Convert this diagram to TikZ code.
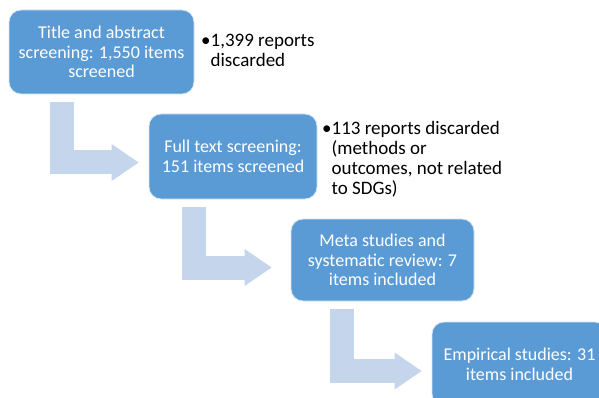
\documentclass[tikz,border=0pt]{standalone}
\usepackage{fontspec}
\setmainfont{Carlito}
\usetikzlibrary{arrows.meta,calc}
\definecolor{boxblue}{RGB}{91,155,213}
\definecolor{arrowblue}{RGB}{197,213,235}

\begin{document}
\begin{tikzpicture}[x=1pt, y=-1pt,
    stage/.style={rectangle, rounded corners=12pt, fill=boxblue, draw=white!75!boxblue, line width=0.8pt,
      text=white, align=center, inner sep=0pt, font=\fontsize{18}{19.8}\selectfont},
    note/.style={anchor=base west, inner sep=0pt, font=\fontsize{19}{20}\selectfont},
    bendarrow/.style={draw=arrowblue, line width=24pt, -{Triangle[width=37pt,length=27pt,line width=0pt]}}]
  \useasboundingbox (0,0) rectangle (599,398);
  \clip (0,0) rectangle (599,398);

  % stages
  \node[stage, minimum width=185pt, minimum height=84pt] (b1) at (101.5,52) {Title and abstract\\screening: 1,550 items\\screened};
  \node[stage, minimum width=168pt, minimum height=85pt] (b2) at (233,156.5) {Full text screening:\\151 items screened};
  \node[stage, minimum width=183pt, minimum height=82pt] (b3) at (382.5,260) {Meta studies and\\systematic review: 7\\items included};
  \node[stage, minimum width=175pt, minimum height=84pt] (b4) at (519.5,364) {Empirical studies: 31\\items included};

  % discarded notes
  \node[note] (n1) at (201,47) {\begin{tabular}[t]{@{}l@{}l@{}}\textbullet&1,399 reports\\&discarded\end{tabular}};
  \node[note] (n2) at (322,135) {\begin{tabular}[t]{@{}l@{}l@{}}\textbullet&113 reports discarded\\&(methods or\\&outcomes, not related\\&to SDGs)\end{tabular}};

  % bent arrows
  \foreach \a/\b/\dx/\tx/\ty in {b1/b2/53/-10/6, b2/b3/45.5/-19/7.5, b3/b4/51/-10/7}
    \draw[bendarrow] ($(\a.south west)+(\dx,8)$) |- ($(\b.west)+(\tx,\ty)$);
\end{tikzpicture}
\end{document}
